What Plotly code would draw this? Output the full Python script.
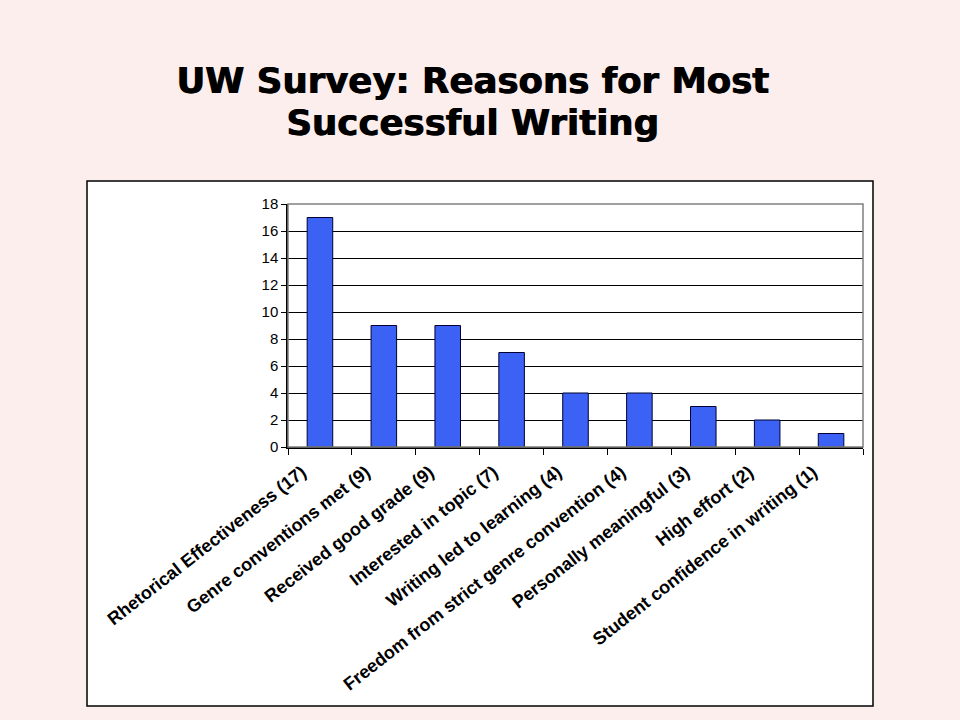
import plotly.graph_objects as go

categories = [
    'Rhetorical Effectiveness (17)',
    'Genre conventions met (9)',
    'Received good grade (9)',
    'Interested in topic (7)',
    'Writing led to learning (4)',
    'Freedom from strict genre convention (4)',
    'Personally meaningful (3)',
    'High effort (2)',
    'Student confidence in writing (1)',
]
votes = [17, 9, 9, 7, 4, 4, 3, 2, 1]
y_ticks = [0, 2, 4, 6, 8, 10, 12, 14, 16, 18]
title_lines = ['UW Survey: Reasons for Most', 'Successful Writing']

fig = go.Figure([go.Bar(x=categories, y=votes, width=0.4,
                        marker=dict(color='#3B62F5', line=dict(color='#000033', width=1)))])

fig.update_layout(
    width=960, height=720,
    paper_bgcolor='#FCEEEC', plot_bgcolor='white',
    margin=dict(l=288, r=97, t=204, b=273),
    font=dict(family='Liberation Sans, Arial', color='black'),
    showlegend=False,
)

# title as two lines (tighter line spacing than plotly's title)
for txt, ypos in zip(title_lines, [(447 - 80) / 243, (447 - 122) / 243]):
    fig.add_annotation(text='<b>%s</b>' % txt, xref='paper', yref='paper',
                       x=0.32, y=ypos, xanchor='center', yanchor='middle',
                       showarrow=False,
                       font=dict(size=35.5, color='black', family='DejaVu Sans',
                                 shadow='1px 0px 0px black'))

# white chart frame behind the plot
fig.add_shape(type='rect', xref='paper', yref='paper', layer='below',
              x0=-201 / 575, x1=1 + 10 / 575, y0=-259 / 243, y1=1 + 23 / 243,
              line=dict(color='black', width=1.5), fillcolor='white')
# gray plot border
fig.add_shape(type='rect', xref='paper', yref='paper', layer='above',
              x0=0, x1=1, y0=0, y1=1, line=dict(color='#808080', width=1.5))

fig.update_xaxes(
    tickangle=-38, tickfont=dict(size=18),
    ticktext=['<b>%s</b>' % c for c in categories], tickvals=categories,
    ticklabelshift=-18, ticklabelstandoff=6,
    showline=True, linecolor='black', linewidth=1.5,
    ticks='outside', ticklen=6, tickcolor='black', tickson='boundaries',
    showgrid=False,
)
fig.update_yaxes(
    range=[0, 18], tickvals=y_ticks, tickfont=dict(size=15),
    showline=True, linecolor='black', linewidth=1.5,
    ticks='outside', ticklen=5, tickcolor='black',
    showgrid=True, gridcolor='black', gridwidth=1.2, zeroline=False,
)

fig.write_html("out.html", config={'displayModeBar': False},
               post_script="document.body.style.margin='0';")
